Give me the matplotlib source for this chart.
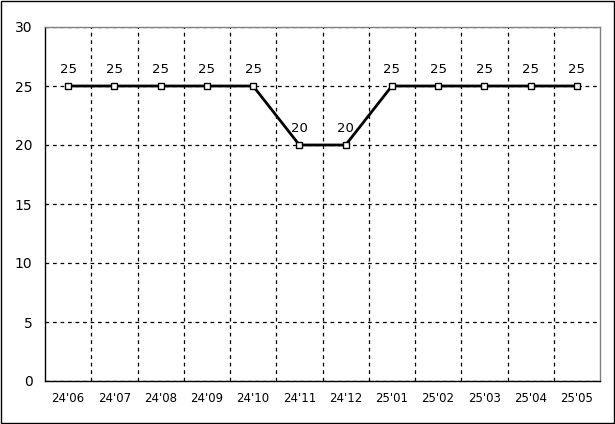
import matplotlib
matplotlib.use("Agg")
import matplotlib.pyplot as plt
from matplotlib.patches import Rectangle

months = ["24'06", "24'07", "24'08", "24'09", "24'10", "24'11",
          "24'12", "25'01", "25'02", "25'03", "25'04", "25'05"]
values = [25, 25, 25, 25, 25, 20, 20, 25, 25, 25, 25, 25]
yticks = [0, 5, 10, 15, 20, 25, 30]

plt.rcParams['font.family'] = ['DejaVu Sans']

fig = plt.figure(figsize=(6.15, 4.24), dpi=100)
# outer frame round the whole picture
fig.patches.append(Rectangle((0.7 / 615, 1.2 / 424), 613 / 615, 421.8 / 424,
                             transform=fig.transFigure, fill=False,
                             edgecolor="black", linewidth=1.0))
ax = fig.add_axes([45 / 615, 43 / 424, 555 / 615, 354 / 424])

x = list(range(len(months)))
ax.plot(x, values, color="black", linewidth=2, marker="s", markersize=5,
        markerfacecolor="white", markeredgecolor="black", markeredgewidth=1, zorder=3)
for xi, v in zip(x, values):
    ax.annotate(str(v), (xi, v), xytext=(0, 7), textcoords="offset points",
                ha="center", va="bottom", fontsize=9.5)

ax.set_xlim(-0.5, len(months) - 0.5)
ax.set_ylim(0, 30)
ax.set_yticks(yticks)
ax.set_xticks(x)
ax.set_xticklabels(months)
ax.set_xticks([i + 0.5 for i in range(len(months) - 1)], minor=True)

ax.grid(axis="y", which="major", color="black", linestyle=(0, (3, 3)), linewidth=0.9)
ax.grid(axis="x", which="minor", color="black", linestyle=(0, (3, 3)), linewidth=0.9)
ax.tick_params(axis="both", which="both", length=0)
ax.tick_params(axis="x", pad=8, labelsize=8.5)
ax.tick_params(axis="y", pad=9, labelsize=10)

ax.spines["top"].set_color("#808080")
ax.spines["right"].set_color("#808080")
ax.spines["left"].set_color("black")
ax.spines["bottom"].set_color("black")
for s in ax.spines.values():
    s.set_linewidth(1)

fig.savefig("out.png", dpi=100)
